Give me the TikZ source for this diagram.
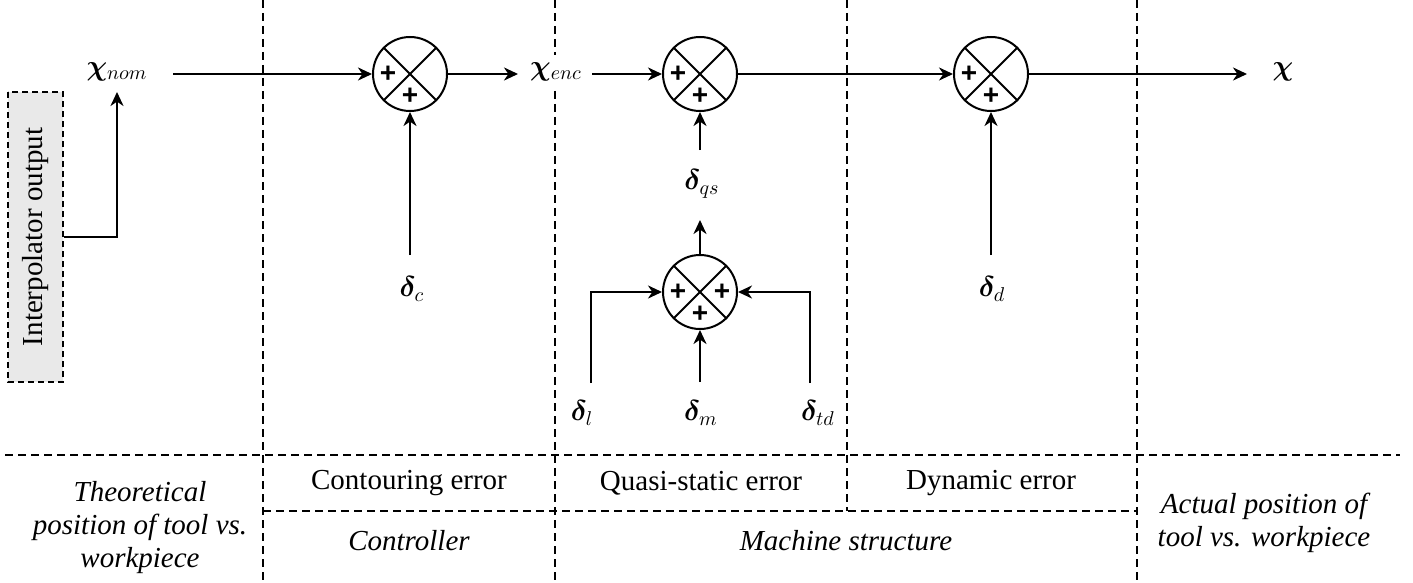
\documentclass[tikz,border=0pt]{standalone}
\usepackage{amsmath,bm}
\usepackage{fontspec}
\setmainfont{Liberation Serif}
\newfontfamily\plusfont{Liberation Sans}
\usetikzlibrary{arrows.meta,calc}
\begin{document}
\begin{tikzpicture}[x=0.5pt,y=-0.5pt,
  sig/.style={line width=1.2pt,-{Stealth[length=7pt,width=6.5pt,inset=2.2pt]}},
  wire/.style={line width=1.2pt},
  sumnode/.style={circle,draw,line width=1pt,minimum size=37pt,inner sep=0pt},
  plus/.style={font=\plusfont\bfseries\fontsize{14}{14}\selectfont,inner sep=0pt},
  gridline/.style={line width=0.8pt,dash pattern=on 4pt off 2.5pt},
  mlbl/.style={font=\fontsize{14.4}{16.5}\selectfont,inner sep=0pt},
  txt/.style={font=\fontsize{14.5}{16.5}\selectfont,align=center,inner sep=0pt},
  itxt/.style={font=\fontsize{14.5}{16.5}\selectfont\itshape,align=center,inner sep=0pt}]
\useasboundingbox (0,0) rectangle (1413,583);

% grid of dashed lines
\draw[gridline] (263,0) -- (263,583);
\draw[gridline] (555,0) -- (555,583);
\draw[gridline] (847,0) -- (847,511);
\draw[gridline] (1137,0) -- (1137,583);
\draw[gridline] (5,455) -- (1400,455);
\draw[gridline] (263,511) -- (1137,511);

% interpolator box
\node[draw,line width=0.8pt,dash pattern=on 3pt off 2pt,fill=gray!17,rotate=90,
      minimum width=145pt,minimum height=27.5pt,inner sep=0pt,
      font=\rmfamily\fontsize{14.5}{16.5}\selectfont] (interp) at (35.5,237) {Interpolator output};

% sum junctions
\node[sumnode] (s1) at (410,74) {};
\node[sumnode] (s2) at (700,74) {};
\node[sumnode] (s3) at (991,74) {};
\node[sumnode] (s4) at (700,292) {};
\foreach \s in {s1,s2,s3,s4}{
  \draw[line width=1pt] (\s.45) -- (\s.225);
  \draw[line width=1pt] (\s.135) -- (\s.315);
}
\node[plus] (p1l) at ($(s1)+(-22,0)$) {+};
\node[plus] (p1b) at ($(s1)+(0,22)$) {+};
\node[plus] (p2l) at ($(s2)+(-22,0)$) {+};
\node[plus] (p2b) at ($(s2)+(0,22)$) {+};
\node[plus] (p3l) at ($(s3)+(-22,0)$) {+};
\node[plus] (p3b) at ($(s3)+(0,22)$) {+};
\node[plus] (p4l) at ($(s4)+(-22,0)$) {+};
\node[plus] (p4r) at ($(s4)+(22,0)$) {+};
\node[plus] (p4b) at ($(s4)+(0,22)$) {+};

% labels
\node[mlbl] (xnom) at (117,72) {$\bm{\chi}_{nom}$};
\node[mlbl,fill=white,inner sep=4pt] (xenc) at (556,72) {$\bm{\chi}_{enc}$};
\node[mlbl] (xout) at (1283,72) {$\bm{\chi}$};
\node[mlbl] (dc) at (412,289) {$\bm{\delta}_{c}$};
\node[mlbl] (dd) at (992,289) {$\bm{\delta}_{d}$};
\node[mlbl] (dqs) at (702,184) {$\bm{\delta}_{qs}$};
\node[mlbl] (dl) at (582,413) {$\bm{\delta}_{l}$};
\node[mlbl] (dm) at (701,413) {$\bm{\delta}_{m}$};
\node[mlbl] (dtd) at (818,413) {$\bm{\delta}_{td}$};

% connector end points
\coordinate (xnomtip) at (117,92);
\coordinate (xnomout) at (173,74);
\coordinate (xenctip) at (518,74);
\coordinate (xencout) at (592,74);
\coordinate (xtip) at (1247,74);
\coordinate (dcs) at (410,255);
\coordinate (dds) at (991,255);
\coordinate (dqss) at (700,150);
\coordinate (qstip) at (700,220);
\coordinate (dls) at (591,383);
\coordinate (dms) at (700,382);
\coordinate (dtds) at (810,383);

% connectors
\draw[sig] (interp.south) -| (xnomtip);
\draw[sig] (xnomout) -- (s1.west);
\draw[sig] (s1.east) -- (xenctip);
\draw[sig] (xencout) -- (s2.west);
\draw[sig] (s2.east) -- (s3.west);
\draw[sig] (s3.east) -- (xtip);
\draw[sig] (dcs) -- (s1.south);
\draw[sig] (dds) -- (s3.south);
\draw[sig] (dqss) -- (s2.south);
\draw[sig] (s4.north) -- (qstip);
\draw[sig] (dls) |- (s4.west);
\draw[sig] (dms) -- (s4.south);
\draw[sig] (dtds) |- (s4.east);

% bottom table texts
\node[itxt] (theo) at (140,528) {Theoretical\\position of tool vs.\\workpiece};
\node[txt] (cont) at (409,483) {Contouring error};
\node[itxt] (ctrl) at (409,541) {Controller};
\node[txt] (qse) at (701,483) {Quasi-static error};
\node[txt] (dyn) at (991,483) {Dynamic error};
\node[itxt] (mach) at (846,541) {Machine structure};
\node[itxt] (act) at (1264,523) {Actual position of\\tool vs. workpiece};
\end{tikzpicture}
\end{document}
